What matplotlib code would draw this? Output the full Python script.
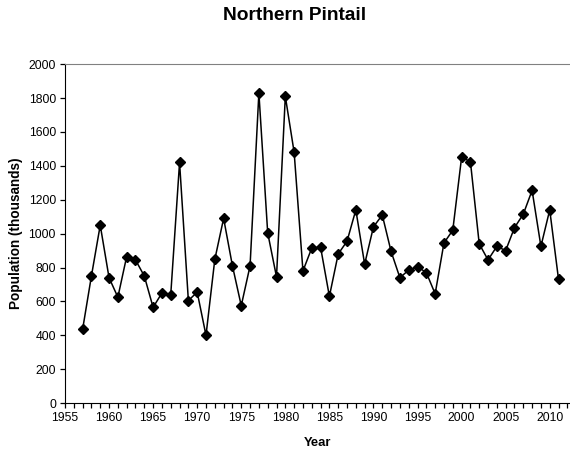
import matplotlib
matplotlib.use("Agg")
import matplotlib.pyplot as plt
from matplotlib.ticker import MultipleLocator

plt.rcParams["font.family"] = ["Liberation Sans", "DejaVu Sans"]

years = list(range(1957, 2012))
population = [435, 750, 1050, 740, 625, 865, 845, 750, 565, 650,
              640, 1420, 605, 655, 400, 848, 1090, 810, 575, 810,
              1830, 1005, 745, 1810, 1480, 780, 915, 920, 630, 880,
              955, 1140, 820, 1040, 1110, 895, 740, 785, 805, 770,
              645, 945, 1020, 1450, 1425, 940, 845, 925, 900, 1035,
              1115, 1255, 925, 1140, 730]

fig = plt.figure(figsize=(5.7, 4.55), dpi=100)
ax = fig.add_axes([0.114, 0.114, 0.886, 0.745])

ax.plot(years, population, color="black", lw=1.1, marker="D",
        markersize=5, markerfacecolor="black", markeredgecolor="black")

ax.set_xlim(1955, 2012.3)
ax.set_ylim(0, 2000)
ax.xaxis.set_major_locator(MultipleLocator(5))
ax.xaxis.set_minor_locator(MultipleLocator(1))
ax.yaxis.set_major_locator(MultipleLocator(200))
ax.tick_params(axis="both", which="both", direction="out", labelsize=8.7,
               color="black", width=0.9)
ax.tick_params(axis="both", which="major", length=3.5, pad=3)
ax.tick_params(axis="x", which="minor", length=3.5)

ax.spines["right"].set_visible(False)
ax.spines["top"].set_color("#808080")
for s in ["left", "bottom"]:
    ax.spines[s].set_color("black")

ax.set_xlabel("Year", fontsize=9.4, fontweight="bold", labelpad=9)
ax.set_ylabel("Population (thousands)", fontsize=9.8, fontweight="bold",
              labelpad=4)
fig.text(0.5175, 0.965, "Northern Pintail", fontsize=13.8, fontweight="bold",
         ha="center", va="center")

fig.savefig("out.png", dpi=100)
